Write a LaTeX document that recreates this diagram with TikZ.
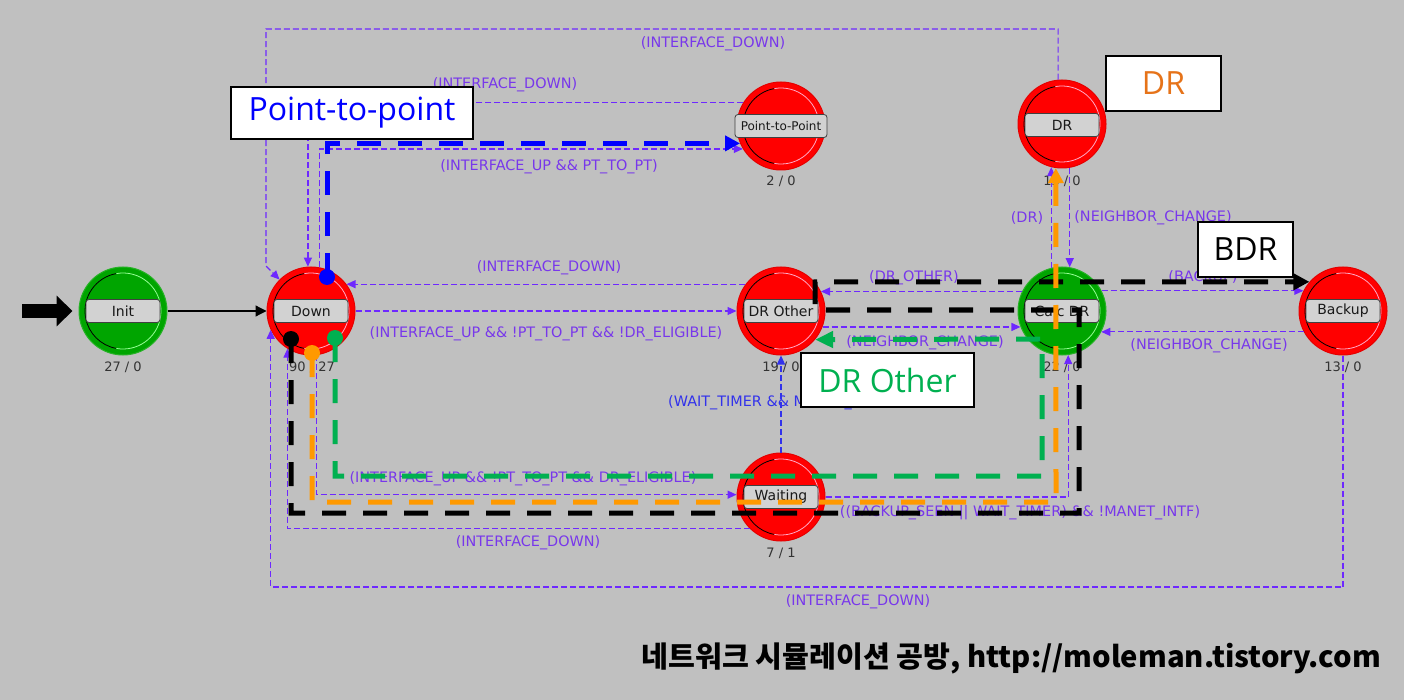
\documentclass[tikz,border=0pt]{standalone}
\usepackage{fontspec}
\setmainfont{DejaVu Sans}
\newfontfamily\annfont{Open Sans}
\newfontfamily\krfont{Noto Sans CJK KR}
\usetikzlibrary{arrows.meta,calc}
\definecolor{bgc}{RGB}{192,192,192}
\definecolor{trc}{RGB}{110,40,255}
\definecolor{trtext}{RGB}{120,55,235}
\definecolor{wtblue}{RGB}{50,50,235}
\definecolor{stred}{RGB}{255,0,0}
\definecolor{stgreen}{RGB}{0,165,0}
\definecolor{hlblue}{RGB}{0,0,255}
\definecolor{hlorange}{RGB}{255,153,0}
\definecolor{hlgreen}{RGB}{0,176,80}
\definecolor{annorange}{RGB}{230,115,25}
\definecolor{lblfill}{RGB}{210,210,210}
\definecolor{pinkarc}{RGB}{255,170,200}
\definecolor{greenarc}{RGB}{150,255,150}
\begin{document}
\begin{tikzpicture}[x=1pt,y=-1pt,
  stnode/.style={circle, minimum size=88pt, inner sep=0pt, line width=1pt},
  redst/.style={stnode, fill=stred, draw=red!90!black},
  greenst/.style={stnode, fill=stgreen, draw=stgreen!85!white},
  namebox/.style={draw=black!75, fill=lblfill, rounded corners=3pt, minimum width=74pt, minimum height=23pt, inner sep=0pt, line width=0.8pt, text=black!90, font=\fontsize{14}{15}\selectfont},
  cnt/.style={text=black!80, inner sep=0pt, font=\fontsize{13}{14}\selectfont},
  trline/.style={draw=trc, line width=1.2pt, dash pattern=on 6pt off 3pt, -{Triangle[length=9pt,width=8pt]}},
  trlbl/.style={text=trtext, inner sep=0pt, font=\fontsize{14.4}{15}\selectfont},
  hlpath/.style={line width=5pt, dash pattern=on 24pt off 17pt},
  annbox/.style={draw=black, line width=2pt, fill=white, inner sep=0pt, font=\annfont\fontsize{32}{34}\selectfont}
]
\fill[bgc] (0,0) rectangle (1404,700);
\useasboundingbox (0,0) rectangle (1404,700);

% states
\node[greenst] (init) at (123,311) {};
\node[redst] (down) at (311,311) {};
\node[redst] (p2p) at (781,126) {};
\node[redst] (dr) at (1062,124) {};
\node[redst] (drother) at (781,311) {};
\node[greenst] (caldr) at (1062,311) {};
\node[redst] (backup) at (1343,311) {};
\node[redst] (waiting) at (781,497) {};

\foreach \n/\lc in {init/greenarc, caldr/greenarc, down/pinkarc, p2p/pinkarc, dr/pinkarc, drother/pinkarc, backup/pinkarc, waiting/pinkarc}{
  \draw[black, line width=0.8pt] (\n.center) ++(100:38pt) arc[start angle=100, end angle=260, radius=38pt];
  \draw[\lc, line width=0.8pt] (\n.center) ++(260:38pt) arc[start angle=260, end angle=460, radius=38pt];
}

% name boxes
\node[namebox] (initl) at (123,311) {Init};
\node[namebox] (downl) at (311,311) {Down};
\node[namebox, minimum width=92pt, font=\fontsize{12}{13}\selectfont] (p2pl) at (781,126) {Point-to-Point};
\node[namebox] (drl) at (1062,125) {DR};
\node[namebox] (drotherl) at (781,311) {DR Other};
\node[namebox] (caldrl) at (1062,311) {Calc DR};
\node[namebox] (backupl) at (1343,311) {Backup};
\node[namebox] (waitingl) at (781,497) {Waiting};

% counts
\node[cnt] (initc) at (123,367) {27 / 0};
\node[cnt] (downc) at (312,367) {90 / 27};
\node[cnt] (p2pc) at (781,181) {2 / 0};
\node[cnt] (drc) at (1062,181) {13 / 0};
\node[cnt] (drotherc) at (781,367) {19 / 0};
\node[cnt] (caldrc) at (1062,367) {22 / 0};
\node[cnt] (backupc) at (1343,367) {13 / 0};
\node[cnt] (waitingc) at (781,553) {7 / 1};

% initial arrow and init -> down
\coordinate (start) at (22,311);
\draw[line width=14pt, -{Triangle[length=16pt,width=30pt]}, shorten >=6pt] (start) -- (init.west);
\draw[black, line width=1.2pt, -{Triangle[length=11pt,width=11pt]}] (init.east) -- (down.west);

% transitions
\draw[trline] (down.79) |- (p2p.211);
\draw[trline] (p2p.148) -| (down.94);
\draw[trline] (dr.95) |- (266,29) -- (266,266) -- (down.135);
\draw[trline] (drother.143) -- (down.37);
\draw[trline] (down.east) -- (drother.west);
\draw[trline] (down.-83) |- (waiting.177);
\draw[trline] (waiting.225) -| (down.-122);
\draw[trline] (backup.south) -- (1343,587) -| (down.-155);
\draw[trline, draw=wtblue] (waiting.north) -- (drother.south);
\draw[trline] (waiting.east) -| (caldr.-82);
\draw[trline] (caldr.154) -- (drother.26);
\draw[trline] (drother.-21) -- (caldr.201);
\draw[trline] (caldr.104) -- (dr.-104);
\draw[trline] (dr.-80) -- (caldr.80);
\draw[trline] (caldr.27) -- (backup.153);
\draw[trline] (backup.208) -- (caldr.-28);

% transition labels
\node[trlbl] (t2) at (549,167) {(INTERFACE\_UP \&\& PT\_TO\_PT)};
\node[trlbl] (t3) at (505,85) {(INTERFACE\_DOWN)};
\node[trlbl] (t4) at (713,44) {(INTERFACE\_DOWN)};
\node[trlbl] (t5) at (549,268) {(INTERFACE\_DOWN)};
\node[trlbl] (t6) at (546,334) {(INTERFACE\_UP \&\& !PT\_TO\_PT \&\& !DR\_ELIGIBLE)};
\node[trlbl] (t7) at (523,479) {(INTERFACE\_UP \&\& !PT\_TO\_PT \&\& DR\_ELIGIBLE)};
\node[trlbl] (t8) at (528,543) {(INTERFACE\_DOWN)};
\node[trlbl] (t9) at (858,602) {(INTERFACE\_DOWN)};
\node[trlbl, text=wtblue, anchor=west] (t10) at (668,403) {(WAIT\_TIMER \&\& MANET\_INTF)};
\node[trlbl] (t11) at (1020,513) {((BACKUP\_SEEN || WAIT\_TIMER) \&\& !MANET\_INTF)};
\node[trlbl] (t12) at (914,278) {(DR\_OTHER)};
\node[trlbl] (t13) at (925,343) {(NEIGHBOR\_CHANGE)};
\node[trlbl] (t14) at (1027,218) {(DR)};
\node[trlbl] (t15) at (1153,218) {(NEIGHBOR\_CHANGE)};
\node[trlbl] (t16) at (1203,277) {(BACKUP)};
\node[trlbl] (t17) at (1209,346) {(NEIGHBOR\_CHANGE)};

% highlighted paths
\coordinate (bdot) at (327,277);
\coordinate (kdot) at (291,339);
\coordinate (odot) at (312,353);
\coordinate (gdot) at (335,338);
\draw[hlpath, draw=hlblue, -{Triangle[length=15pt,width=15pt]}] (bdot) |- (p2p.203);
\fill[hlblue] (bdot) circle[radius=8pt];
\draw[hlpath, draw=black, -{Triangle[length=16pt,width=16pt]}] (kdot) -- (291,513) -- (1079,513) -- (1079,310) -- (815,310) -- (815,282) -- (backup.139);
\fill[black] (kdot) circle[radius=8pt];
\draw[hlpath, draw=hlorange, -{Triangle[length=15pt,width=15pt]}] (odot) -- (312,502) -- (1056,502) -- (dr.-98);
\fill[hlorange] (odot) circle[radius=8pt];
\draw[hlpath, draw=hlgreen, -{Triangle[length=18pt,width=16pt]}] (gdot) -- (335,476) -- (1042,476) -- (1042,339) -- (drother.-40);
\fill[hlgreen] (gdot) circle[radius=8pt];

% annotation boxes
\node[annbox, text=hlblue, minimum width=242pt, minimum height=52pt] (annp2p) at (352,113) {Point-to-point};
\node[annbox, text=annorange, minimum width=115pt, minimum height=55pt] (anndr) at (1163.5,83.5) {DR};
\node[annbox, text=black, minimum width=95pt, minimum height=55pt] (annbdr) at (1245.5,249.5) {BDR};
\node[annbox, text=hlgreen, minimum width=173pt, minimum height=54pt] (anndro) at (887.5,380) {DR Other};

% footer
\node[anchor=east, inner sep=0pt, font=\krfont\bfseries\fontsize{29.2}{31}\selectfont] (footer) at (1381,658) {네트워크 시뮬레이션 공방, http://moleman.tistory.com};
\end{tikzpicture}
\end{document}
